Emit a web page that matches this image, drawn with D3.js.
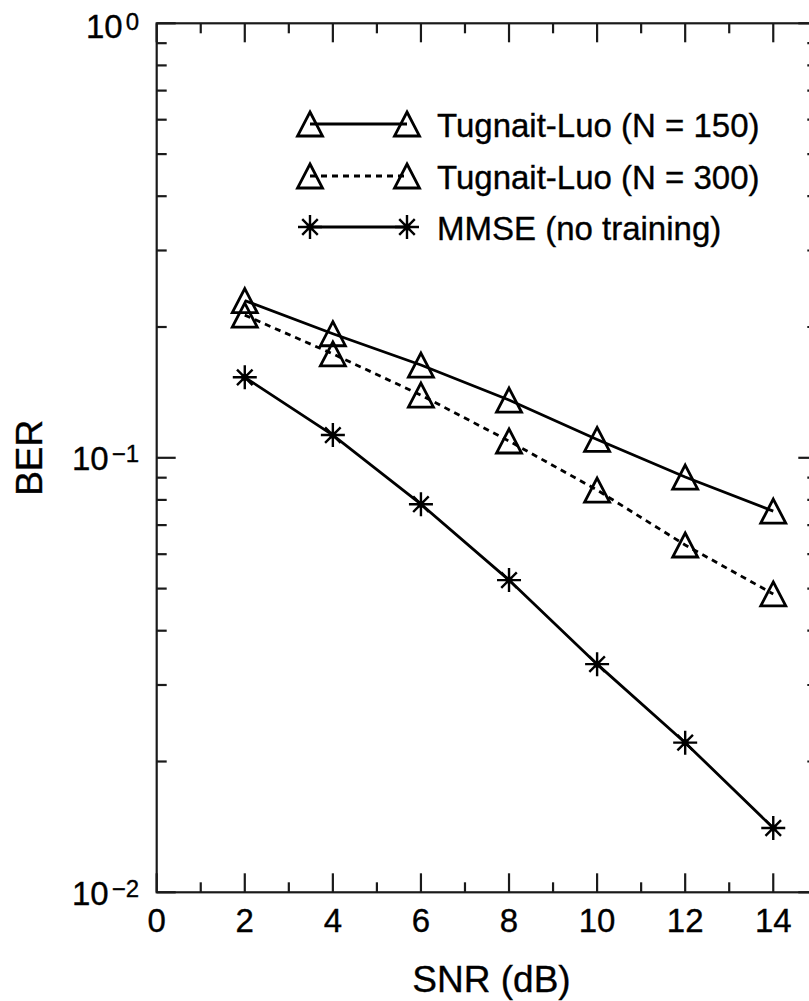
<!DOCTYPE html>
<html>
<head>
<meta charset="utf-8">
<script src="https://cdn.jsdelivr.net/npm/d3@7"></script>
<style>
  html, body { margin: 0; padding: 0; background: #fff; }
  svg { display: block; }
  text { font-family: "Liberation Sans", Arial, Helvetica, sans-serif; fill: #000; stroke: #000; stroke-width: 0.35px; }
</style>
</head>
<body>
<svg id="chart" width="809" height="1001"></svg>
<script>
// ---- data ----
const snr = [2, 4, 6, 8, 10, 12, 14];
const tl150 = [0.230, 0.193, 0.1635, 0.1358, 0.1102, 0.0903, 0.0754];
const tl300 = [0.213, 0.1734, 0.1394, 0.1093, 0.0843, 0.0630, 0.0486];
const mmse  = [0.1532, 0.1128, 0.0782, 0.0523, 0.0335, 0.0221, 0.01406];
const seriesNames = ["Tugnait-Luo (N = 150)", "Tugnait-Luo (N = 300)", "MMSE (no training)"];
const xTickLabels = [0, 2, 4, 6, 8, 10, 12, 14];
const yDecades = [-2, -1, 0];

// ---- layout ----
const pL = 156.7, pR = 817.3, pT = 23.3, pB = 892.3;
const svg = d3.select("#chart");

const x = d3.scaleLinear().domain([0, 15]).range([pL, pR]);
const y = d3.scaleLog().domain([0.01, 1]).range([pB, pT]);

const axisColor = "#1a1a1a";
const MAJ = 19, MIN = 10;

// frame
svg.append("rect")
  .attr("x", pL).attr("y", pT)
  .attr("width", pR - pL).attr("height", pB - pT)
  .attr("fill", "none").attr("stroke", axisColor).attr("stroke-width", 2.2);

// x ticks (bottom and top, inward)
const xTicks = d3.range(0, 16, 1);
const xt = svg.append("g").attr("stroke", axisColor).attr("stroke-width", 2.2);
xTicks.forEach(t => {
  const len = (t % 2 === 0) ? MAJ : MIN;
  xt.append("line").attr("x1", x(t)).attr("x2", x(t)).attr("y1", pB).attr("y2", pB - len);
  xt.append("line").attr("x1", x(t)).attr("x2", x(t)).attr("y1", pT).attr("y2", pT + len);
});

// y ticks (left and right, inward)
const yt = svg.append("g").attr("stroke", axisColor).attr("stroke-width", 2.2);
const yMajor = yDecades.map(d => Math.pow(10, d));
const yMinor = [];
[-2, -1].forEach(d => { for (let m = 2; m <= 9; m++) yMinor.push(m * Math.pow(10, d)); });
yMajor.forEach(v => {
  yt.append("line").attr("x1", pL).attr("x2", pL + MAJ).attr("y1", y(v)).attr("y2", y(v));
  yt.append("line").attr("x1", pR).attr("x2", pR - MAJ).attr("y1", y(v)).attr("y2", y(v));
});
yMinor.forEach(v => {
  yt.append("line").attr("x1", pL).attr("x2", pL + MIN).attr("y1", y(v)).attr("y2", y(v));
  yt.append("line").attr("x1", pR).attr("x2", pR - MIN).attr("y1", y(v)).attr("y2", y(v));
});

// x tick labels
svg.append("g").selectAll("text").data(xTickLabels).join("text")
  .attr("x", d => x(d)).attr("y", pB + 40)
  .attr("text-anchor", "middle").attr("font-size", 33)
  .text(d => d);

// y tick labels 10^k
const yl = svg.append("g");
yDecades.forEach(d => {
  const t = yl.append("text")
    .attr("x", 139).attr("y", y(Math.pow(10, d)) + (d === 0 ? 15 : 12.5))
    .attr("text-anchor", "end").attr("font-size", 33);
  t.append("tspan").text("10");
  t.append("tspan").attr("dx", 3).attr("dy", -8).attr("font-size", 24).text(d === 0 ? "0" : "\u2212" + (-d));
});

// axis titles
svg.append("text").attr("x", 491.5).attr("y", 992)
  .attr("text-anchor", "middle").attr("font-size", 37).text("SNR (dB)");
svg.append("text")
  .attr("transform", `translate(41.5, ${(pT + pB) / 2}) rotate(-90)`)
  .attr("text-anchor", "middle").attr("font-size", 37).text("BER");

// marker shapes
function triPath(cx, cy) {
  const hw = 12.5, hh = 12;
  return `M${cx},${cy - hh}L${cx + hw},${cy + hh}L${cx - hw},${cy + hh}Z`;
}
function starPath(cx, cy) {
  const r = 12, rd = 11;
  const d = rd / Math.SQRT2;
  return `M${cx - r},${cy}L${cx + r},${cy}M${cx},${cy - r}L${cx},${cy + r}` +
         `M${cx - d},${cy - d}L${cx + d},${cy + d}M${cx - d},${cy + d}L${cx + d},${cy - d}`;
}

const line = d3.line().x(d => x(d[0])).y(d => y(d[1]));
const series = [
  { name: seriesNames[0], vals: tl150, dash: null, marker: "tri" },
  { name: seriesNames[1], vals: tl300, dash: "6,5", marker: "tri" },
  { name: seriesNames[2], vals: mmse, dash: null, marker: "star" }
];

const plot = svg.append("g");
series.forEach(s => {
  const pts = snr.map((v, i) => [v, s.vals[i]]);
  plot.append("path").attr("d", line(pts))
    .attr("fill", "none").attr("stroke", "#000").attr("stroke-width", 2.8)
    .attr("stroke-dasharray", s.dash);
  plot.append("g").selectAll("path").data(pts).join("path")
    .attr("d", d => s.marker === "tri" ? triPath(x(d[0]), y(d[1])) : starPath(x(d[0]), y(d[1])))
    .attr("fill", "none").attr("stroke", "#000")
    .attr("stroke-width", s.marker === "tri" ? 2.8 : 2.4)
    .attr("stroke-linejoin", "miter");
  if (s.marker === "star") {
    plot.append("g").selectAll("circle").data(pts).join("circle")
      .attr("cx", d => x(d[0])).attr("cy", d => y(d[1])).attr("r", 3.5).attr("fill", "#000");
  }
});

// legend
const legRows = [124, 176, 227];
const lx1 = 310, lx2 = 407, ltx = 437;
const leg = svg.append("g");
series.forEach((s, i) => {
  const cy = legRows[i];
  leg.append("line").attr("x1", lx1).attr("x2", lx2).attr("y1", cy).attr("y2", cy)
    .attr("stroke", "#000").attr("stroke-width", 2.8).attr("stroke-dasharray", s.dash);
  [lx1, lx2].forEach(cx => {
    leg.append("path")
      .attr("d", s.marker === "tri" ? triPath(cx, cy) : starPath(cx, cy))
      .attr("fill", "none").attr("stroke", "#000").attr("stroke-width", s.marker === "tri" ? 2.8 : 2.4);
    if (s.marker === "star") leg.append("circle").attr("cx", cx).attr("cy", cy).attr("r", 3.5).attr("fill", "#000");
  });
  leg.append("text").attr("x", ltx).attr("y", cy + 13).attr("font-size", 33).text(s.name);
});
</script>
</body>
</html>
